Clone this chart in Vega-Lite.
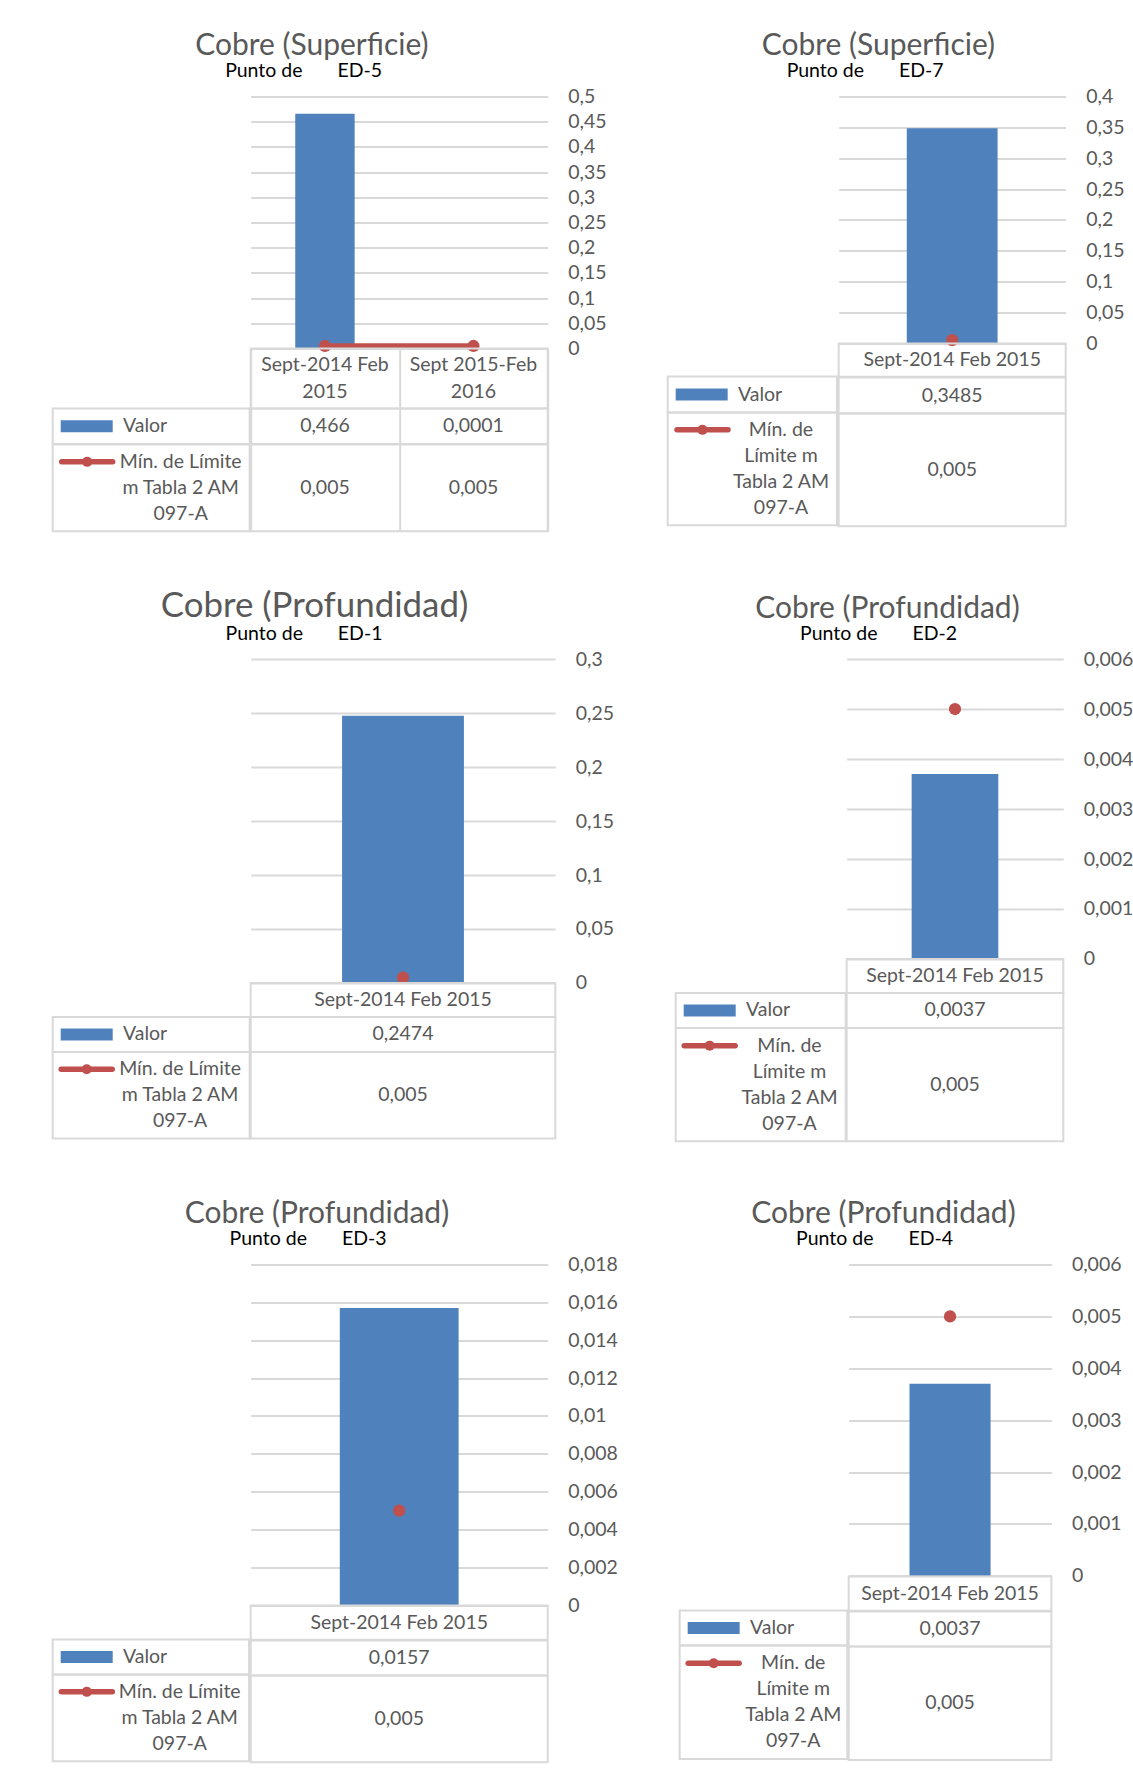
{
  "$schema": "https://vega.github.io/schema/vega-lite/v6.json",
  "padding": {"left": 48.7, "top": 30.5, "right": 0, "bottom": 0},
  "background": "white",
  "datasets": {
    "cobre": [
      {"punto": "ED-5", "periodo": "Sept-2014 Feb\n2015", "valor": 0.466, "limite": 0.005},
      {"punto": "ED-5", "periodo": "Sept 2015-Feb\n2016", "valor": 0.0001, "limite": 0.005},
      {"punto": "ED-7", "periodo": "Sept-2014 Feb 2015", "valor": 0.3485, "limite": 0.005},
      {"punto": "ED-1", "periodo": "Sept-2014 Feb 2015", "valor": 0.2474, "limite": 0.005},
      {"punto": "ED-2", "periodo": "Sept-2014 Feb 2015", "valor": 0.0037, "limite": 0.005},
      {"punto": "ED-3", "periodo": "Sept-2014 Feb 2015", "valor": 0.0157, "limite": 0.005},
      {"punto": "ED-4", "periodo": "Sept-2014 Feb 2015", "valor": 0.0037, "limite": 0.005}
    ]
  },
  "vconcat": [
    {
      "hconcat": [
        {
          "title": {"text": "Cobre (Superficie)", "subtitle": "\u200b\u00a0\u00a0\u00a0\u00a0\u00a0\u00a0Punto de\u00a0\u00a0\u00a0\u00a0\u00a0\u00a0\u00a0ED-5", "fontSize": 30, "dx": 142.5, "offset": 6, "subtitlePadding": 1},
          "hconcat": [
            {"vconcat": [
              {"width": 197, "height": 312, "data": {"values": [{}]}, "mark": {"type": "text", "text": ""}, "view": {"stroke": null}},
              {"width": 197, "height": 35.6, "data": {"values": [{"serie": "Valor"}]},
               "encoding": {"x": {"datum": "fila", "type": "nominal", "bandPosition": 0, "scale": {"type": "band", "domain": ["fila"], "paddingInner": 0.5482, "paddingOuter": 1, "align": 0.2116}, "axis": null}},
               "layer": [
                 {"mark": {"type": "point", "shape": "M-1,-0.23H1V0.23H-1Z", "filled": true, "size": 2704, "color": "#4F81BD", "opacity": 1, "strokeWidth": 0}},
                 {"mark": {"type": "text", "align": "left"},
                  "encoding": {"x": {"datum": "fila", "type": "nominal", "bandPosition": 1}, "text": {"field": "serie"}}}
               ]},
              {"width": 197, "height": 86.7, "data": {"values": [{"serie": "Mín. de Límite\nm Tabla 2 AM\n097-A"}]},
               "encoding": {
                 "x": {"datum": "símbolo", "type": "nominal", "scale": {"type": "point", "domain": ["símbolo", "texto"], "padding": 0.5535, "align": 0.3333}, "axis": null},
                 "y": {"datum": "símbolo", "type": "nominal", "scale": {"type": "point", "domain": ["símbolo"], "padding": 0.5, "align": 0.2001}, "axis": null}
               },
               "layer": [
                 {"mark": {"type": "point", "shape": "M-1,0H1", "filled": false, "size": 2601, "color": "#C0504D", "strokeWidth": 5.5, "strokeCap": "round", "opacity": 1}},
                 {"mark": {"type": "point", "shape": "circle", "filled": true, "size": 100, "color": "#C0504D", "opacity": 1}},
                 {"mark": {"type": "text", "lineBreak": "\n", "lineHeight": 26},
                  "encoding": {"x": {"datum": "texto", "type": "nominal"}, "text": {"field": "serie"}}}
               ]}
            ], "spacing": 0, "bounds": "flush"},
            {"vconcat": [
              {"width": 297, "height": 252,
               "data": {"name": "cobre"}, "transform": [{"filter": "datum.punto == 'ED-5'"}],
               "view": {"stroke": null},
               "encoding": {"x": {"field": "periodo", "type": "nominal", "sort": null, "axis": null, "scale": {"paddingInner": 0.6, "paddingOuter": 0.3}}},
               "layer": [
                 {"mark": {"type": "bar", "color": "#4F81BD"},
                  "encoding": {"y": {"field": "valor", "type": "quantitative", "scale": {"domain": [0, 0.5], "nice": false},
                    "axis": {"orient": "right", "values": [0, 0.05, 0.1, 0.15, 0.2, 0.25, 0.3, 0.35, 0.4, 0.45, 0.5], "format": "~g", "title": null}}}},
                 {"mark": {"type": "line", "color": "#C0504D", "strokeWidth": 5.5},
                  "encoding": {"y": {"field": "limite", "type": "quantitative",
                    "axis": {"orient": "right", "values": [0, 0.05, 0.1, 0.15, 0.2, 0.25, 0.3, 0.35, 0.4, 0.45, 0.5], "format": "~g", "title": null}}}},
                 {"mark": {"type": "point", "shape": "circle", "filled": true, "size": 150, "color": "#C0504D", "opacity": 1},
                  "encoding": {"y": {"field": "limite", "type": "quantitative",
                    "axis": {"orient": "right", "values": [0, 0.05, 0.1, 0.15, 0.2, 0.25, 0.3, 0.35, 0.4, 0.45, 0.5], "format": "~g", "title": null}}}}
               ]},
              {"width": 297, "height": 60, "data": {"name": "cobre"}, "transform": [{"filter": "datum.punto == 'ED-5'"}],
               "mark": {"type": "text", "lineBreak": "\n", "lineHeight": 27},
               "encoding": {"x": {"field": "periodo", "type": "nominal", "sort": null, "scale": {"paddingInner": 0, "paddingOuter": 0},
                 "axis": {"orient": "top", "grid": true, "tickBand": "extent", "labels": false, "ticks": false, "domain": false, "title": null, "gridColor": "#d9d9d9", "gridWidth": 2}},
                 "y": {"datum": "encabezado", "type": "nominal", "scale": {"type": "point", "domain": ["encabezado"], "padding": 0.5, "align": 0.275}, "axis": null},
                 "text": {"field": "periodo"}}},
              {"width": 297, "height": 35.6, "data": {"name": "cobre"}, "transform": [{"filter": "datum.punto == 'ED-5'"}],
               "mark": {"type": "text"},
               "encoding": {"x": {"field": "periodo", "type": "nominal", "sort": null, "scale": {"paddingInner": 0, "paddingOuter": 0},
                 "axis": {"orient": "top", "grid": true, "tickBand": "extent", "labels": false, "ticks": false, "domain": false, "title": null, "gridColor": "#d9d9d9", "gridWidth": 2}},
                 "text": {"field": "valor", "type": "quantitative", "format": "~g"}}},
              {"width": 297, "height": 86.7, "data": {"name": "cobre"}, "transform": [{"filter": "datum.punto == 'ED-5'"}],
               "mark": {"type": "text"},
               "encoding": {"x": {"field": "periodo", "type": "nominal", "sort": null, "scale": {"paddingInner": 0, "paddingOuter": 0},
                 "axis": {"orient": "top", "grid": true, "tickBand": "extent", "labels": false, "ticks": false, "domain": false, "title": null, "gridColor": "#d9d9d9", "gridWidth": 2}},
                 "text": {"field": "limite", "type": "quantitative", "format": "~g"}}}
            ], "spacing": 0, "bounds": "flush"}
          ],
          "spacing": -2
        },
        {
          "title": {"text": "Cobre (Superficie)", "subtitle": "\u200b\u00a0\u00a0\u00a0\u00a0\u00a0Punto de\u00a0\u00a0\u00a0\u00a0\u00a0\u00a0\u00a0ED-7", "fontSize": 30, "dx": 94, "offset": 6, "subtitlePadding": 1},
          "hconcat": [
            {"vconcat": [
              {"width": 169.3, "height": 280, "data": {"values": [{}]}, "mark": {"type": "text", "text": ""}, "view": {"stroke": null}},
              {"width": 169.3, "height": 36, "data": {"values": [{"serie": "Valor"}]},
               "encoding": {"x": {"datum": "fila", "type": "nominal", "bandPosition": 0, "scale": {"type": "band", "domain": ["fila"], "paddingInner": 0.4541, "paddingOuter": 1, "align": 0.2556}, "axis": null}},
               "layer": [
                 {"mark": {"type": "point", "shape": "M-1,-0.23H1V0.23H-1Z", "filled": true, "size": 2704, "color": "#4F81BD", "opacity": 1, "strokeWidth": 0}},
                 {"mark": {"type": "text", "align": "left"},
                  "encoding": {"x": {"datum": "fila", "type": "nominal", "bandPosition": 1}, "text": {"field": "serie"}}}
               ]},
              {"width": 169.3, "height": 112.7, "data": {"values": [{"serie": "Mín. de\nLímite m\nTabla 2 AM\n097-A"}]},
               "encoding": {
                 "x": {"datum": "símbolo", "type": "nominal", "scale": {"type": "point", "domain": ["símbolo", "texto"], "padding": 0.5783, "align": 0.3833}, "axis": null},
                 "y": {"datum": "símbolo", "type": "nominal", "scale": {"type": "point", "domain": ["símbolo"], "padding": 0.5, "align": 0.154}, "axis": null}
               },
               "layer": [
                 {"mark": {"type": "point", "shape": "M-1,0H1", "filled": false, "size": 2601, "color": "#C0504D", "strokeWidth": 5.5, "strokeCap": "round", "opacity": 1}},
                 {"mark": {"type": "point", "shape": "circle", "filled": true, "size": 100, "color": "#C0504D", "opacity": 1}},
                 {"mark": {"type": "text", "lineBreak": "\n", "lineHeight": 26},
                  "encoding": {"x": {"datum": "texto", "type": "nominal"}, "text": {"field": "serie"}}}
               ]}
            ], "spacing": 0, "bounds": "flush"},
            {"vconcat": [
              {"width": 227, "height": 246.7,
               "data": {"name": "cobre"}, "transform": [{"filter": "datum.punto == 'ED-7'"}],
               "view": {"stroke": null},
               "encoding": {"x": {"field": "periodo", "type": "nominal", "sort": null, "axis": null, "scale": {"paddingInner": 0.6, "paddingOuter": 0.3}}},
               "layer": [
                 {"mark": {"type": "bar", "color": "#4F81BD"},
                  "encoding": {"y": {"field": "valor", "type": "quantitative", "scale": {"domain": [0, 0.4], "nice": false},
                    "axis": {"orient": "right", "values": [0, 0.05, 0.1, 0.15, 0.2, 0.25, 0.3, 0.35, 0.4], "format": "~g", "title": null}}}},
                 {"mark": {"type": "line", "color": "#C0504D", "strokeWidth": 5.5},
                  "encoding": {"y": {"field": "limite", "type": "quantitative",
                    "axis": {"orient": "right", "values": [0, 0.05, 0.1, 0.15, 0.2, 0.25, 0.3, 0.35, 0.4], "format": "~g", "title": null}}}},
                 {"mark": {"type": "point", "shape": "circle", "filled": true, "size": 150, "color": "#C0504D", "opacity": 1},
                  "encoding": {"y": {"field": "limite", "type": "quantitative",
                    "axis": {"orient": "right", "values": [0, 0.05, 0.1, 0.15, 0.2, 0.25, 0.3, 0.35, 0.4], "format": "~g", "title": null}}}}
               ]},
              {"width": 227, "height": 33.3, "data": {"name": "cobre"}, "transform": [{"filter": "datum.punto == 'ED-7'"}],
               "mark": {"type": "text"},
               "encoding": {"x": {"field": "periodo", "type": "nominal", "sort": null, "scale": {"paddingInner": 0, "paddingOuter": 0}, "axis": null},
                 "text": {"field": "periodo"}}},
              {"width": 227, "height": 36, "data": {"name": "cobre"}, "transform": [{"filter": "datum.punto == 'ED-7'"}],
               "mark": {"type": "text"},
               "encoding": {"x": {"field": "periodo", "type": "nominal", "sort": null, "scale": {"paddingInner": 0, "paddingOuter": 0}, "axis": null},
                 "text": {"field": "valor", "type": "quantitative", "format": "~g"}}},
              {"width": 227, "height": 112.7, "data": {"name": "cobre"}, "transform": [{"filter": "datum.punto == 'ED-7'"}],
               "mark": {"type": "text"},
               "encoding": {"x": {"field": "periodo", "type": "nominal", "sort": null, "scale": {"paddingInner": 0, "paddingOuter": 0}, "axis": null},
                 "text": {"field": "limite", "type": "quantitative", "format": "~g"}}}
            ], "spacing": 0, "bounds": "flush"}
          ],
          "spacing": -2
        }
      ],
      "spacing": 58
    },
    {
      "hconcat": [
        {
          "title": {"text": "Cobre (Profundidad)", "subtitle": "\u200b\u00a0\u00a0\u00a0\u00a0\u00a0\u00a0\u00a0\u00a0\u00a0\u00a0\u00a0\u00a0\u00a0Punto de\u00a0\u00a0\u00a0\u00a0\u00a0\u00a0\u00a0ED-1", "fontSize": 34.9, "dx": 108, "offset": 6, "subtitlePadding": 1},
          "hconcat": [
            {"vconcat": [
              {"width": 197, "height": 358, "data": {"values": [{}]}, "mark": {"type": "text", "text": ""}, "view": {"stroke": null}},
              {"width": 197, "height": 35, "data": {"values": [{"serie": "Valor"}]},
               "encoding": {"x": {"datum": "fila", "type": "nominal", "bandPosition": 0, "scale": {"type": "band", "domain": ["fila"], "paddingInner": 0.5482, "paddingOuter": 1, "align": 0.2116}, "axis": null}},
               "layer": [
                 {"mark": {"type": "point", "shape": "M-1,-0.23H1V0.23H-1Z", "filled": true, "size": 2704, "color": "#4F81BD", "opacity": 1, "strokeWidth": 0}},
                 {"mark": {"type": "text", "align": "left"},
                  "encoding": {"x": {"datum": "fila", "type": "nominal", "bandPosition": 1}, "text": {"field": "serie"}}}
               ]},
              {"width": 197, "height": 86.6, "data": {"values": [{"serie": "Mín. de Límite\nm Tabla 2 AM\n097-A"}]},
               "encoding": {
                 "x": {"datum": "símbolo", "type": "nominal", "scale": {"type": "point", "domain": ["símbolo", "texto"], "padding": 0.5546, "align": 0.3282}, "axis": null},
                 "y": {"datum": "símbolo", "type": "nominal", "scale": {"type": "point", "domain": ["símbolo"], "padding": 0.5, "align": 0.1998}, "axis": null}
               },
               "layer": [
                 {"mark": {"type": "point", "shape": "M-1,0H1", "filled": false, "size": 2601, "color": "#C0504D", "strokeWidth": 5.5, "strokeCap": "round", "opacity": 1}},
                 {"mark": {"type": "point", "shape": "circle", "filled": true, "size": 100, "color": "#C0504D", "opacity": 1}},
                 {"mark": {"type": "text", "lineBreak": "\n", "lineHeight": 26},
                  "encoding": {"x": {"datum": "texto", "type": "nominal"}, "text": {"field": "serie"}}}
               ]}
            ], "spacing": 0, "bounds": "flush"},
            {"vconcat": [
              {"width": 304.6, "height": 324,
               "data": {"name": "cobre"}, "transform": [{"filter": "datum.punto == 'ED-1'"}],
               "view": {"stroke": null},
               "encoding": {"x": {"field": "periodo", "type": "nominal", "sort": null, "axis": null, "scale": {"paddingInner": 0.6, "paddingOuter": 0.3}}},
               "layer": [
                 {"mark": {"type": "bar", "color": "#4F81BD"},
                  "encoding": {"y": {"field": "valor", "type": "quantitative", "scale": {"domain": [0, 0.3], "nice": false},
                    "axis": {"orient": "right", "values": [0, 0.05, 0.1, 0.15, 0.2, 0.25, 0.3], "format": "~g", "title": null}}}},
                 {"mark": {"type": "line", "color": "#C0504D", "strokeWidth": 5.5},
                  "encoding": {"y": {"field": "limite", "type": "quantitative",
                    "axis": {"orient": "right", "values": [0, 0.05, 0.1, 0.15, 0.2, 0.25, 0.3], "format": "~g", "title": null}}}},
                 {"mark": {"type": "point", "shape": "circle", "filled": true, "size": 150, "color": "#C0504D", "opacity": 1},
                  "encoding": {"y": {"field": "limite", "type": "quantitative",
                    "axis": {"orient": "right", "values": [0, 0.05, 0.1, 0.15, 0.2, 0.25, 0.3], "format": "~g", "title": null}}}}
               ]},
              {"width": 304.6, "height": 34, "data": {"name": "cobre"}, "transform": [{"filter": "datum.punto == 'ED-1'"}],
               "mark": {"type": "text"},
               "encoding": {"x": {"field": "periodo", "type": "nominal", "sort": null, "scale": {"paddingInner": 0, "paddingOuter": 0}, "axis": null},
                 "text": {"field": "periodo"}}},
              {"width": 304.6, "height": 35, "data": {"name": "cobre"}, "transform": [{"filter": "datum.punto == 'ED-1'"}],
               "mark": {"type": "text"},
               "encoding": {"x": {"field": "periodo", "type": "nominal", "sort": null, "scale": {"paddingInner": 0, "paddingOuter": 0}, "axis": null},
                 "text": {"field": "valor", "type": "quantitative", "format": "~g"}}},
              {"width": 304.6, "height": 86.6, "data": {"name": "cobre"}, "transform": [{"filter": "datum.punto == 'ED-1'"}],
               "mark": {"type": "text"},
               "encoding": {"x": {"field": "periodo", "type": "nominal", "sort": null, "scale": {"paddingInner": 0, "paddingOuter": 0}, "axis": null},
                 "text": {"field": "limite", "type": "quantitative", "format": "~g"}}}
            ], "spacing": 0, "bounds": "flush"}
          ],
          "spacing": -2
        },
        {
          "title": {"text": "Cobre (Profundidad)", "subtitle": "\u200b\u00a0\u00a0\u00a0\u00a0\u00a0\u00a0\u00a0\u00a0\u00a0Punto de\u00a0\u00a0\u00a0\u00a0\u00a0\u00a0\u00a0ED-2", "fontSize": 30, "dx": 79.5, "offset": 6, "subtitlePadding": 1},
          "hconcat": [
            {"vconcat": [
              {"width": 170, "height": 334, "data": {"values": [{}]}, "mark": {"type": "text", "text": ""}, "view": {"stroke": null}},
              {"width": 170, "height": 35, "data": {"values": [{"serie": "Valor"}]},
               "encoding": {"x": {"datum": "fila", "type": "nominal", "bandPosition": 0, "scale": {"type": "band", "domain": ["fila"], "paddingInner": 0.457, "paddingOuter": 1, "align": 0.2543}, "axis": null}},
               "layer": [
                 {"mark": {"type": "point", "shape": "M-1,-0.23H1V0.23H-1Z", "filled": true, "size": 2704, "color": "#4F81BD", "opacity": 1, "strokeWidth": 0}},
                 {"mark": {"type": "text", "align": "left"},
                  "encoding": {"x": {"datum": "fila", "type": "nominal", "bandPosition": 1}, "text": {"field": "serie"}}}
               ]},
              {"width": 170, "height": 113.3, "data": {"values": [{"serie": "Mín. de\nLímite m\nTabla 2 AM\n097-A"}]},
               "encoding": {
                 "x": {"datum": "símbolo", "type": "nominal", "scale": {"type": "point", "domain": ["símbolo", "texto"], "padding": 0.5652, "align": 0.3769}, "axis": null},
                 "y": {"datum": "símbolo", "type": "nominal", "scale": {"type": "point", "domain": ["símbolo"], "padding": 0.5, "align": 0.1558}, "axis": null}
               },
               "layer": [
                 {"mark": {"type": "point", "shape": "M-1,0H1", "filled": false, "size": 2601, "color": "#C0504D", "strokeWidth": 5.5, "strokeCap": "round", "opacity": 1}},
                 {"mark": {"type": "point", "shape": "circle", "filled": true, "size": 100, "color": "#C0504D", "opacity": 1}},
                 {"mark": {"type": "text", "lineBreak": "\n", "lineHeight": 26},
                  "encoding": {"x": {"datum": "texto", "type": "nominal"}, "text": {"field": "serie"}}}
               ]}
            ], "spacing": 0, "bounds": "flush"},
            {"vconcat": [
              {"width": 216.6, "height": 300,
               "data": {"name": "cobre"}, "transform": [{"filter": "datum.punto == 'ED-2'"}],
               "view": {"stroke": null},
               "encoding": {"x": {"field": "periodo", "type": "nominal", "sort": null, "axis": null, "scale": {"paddingInner": 0.6, "paddingOuter": 0.3}}},
               "layer": [
                 {"mark": {"type": "bar", "color": "#4F81BD"},
                  "encoding": {"y": {"field": "valor", "type": "quantitative", "scale": {"domain": [0, 0.006], "nice": false},
                    "axis": {"orient": "right", "values": [0, 0.001, 0.002, 0.003, 0.004, 0.005, 0.006], "format": "~g", "title": null}}}},
                 {"mark": {"type": "line", "color": "#C0504D", "strokeWidth": 5.5},
                  "encoding": {"y": {"field": "limite", "type": "quantitative",
                    "axis": {"orient": "right", "values": [0, 0.001, 0.002, 0.003, 0.004, 0.005, 0.006], "format": "~g", "title": null}}}},
                 {"mark": {"type": "point", "shape": "circle", "filled": true, "size": 150, "color": "#C0504D", "opacity": 1},
                  "encoding": {"y": {"field": "limite", "type": "quantitative",
                    "axis": {"orient": "right", "values": [0, 0.001, 0.002, 0.003, 0.004, 0.005, 0.006], "format": "~g", "title": null}}}}
               ]},
              {"width": 216.6, "height": 34, "data": {"name": "cobre"}, "transform": [{"filter": "datum.punto == 'ED-2'"}],
               "mark": {"type": "text"},
               "encoding": {"x": {"field": "periodo", "type": "nominal", "sort": null, "scale": {"paddingInner": 0, "paddingOuter": 0}, "axis": null},
                 "text": {"field": "periodo"}}},
              {"width": 216.6, "height": 35, "data": {"name": "cobre"}, "transform": [{"filter": "datum.punto == 'ED-2'"}],
               "mark": {"type": "text"},
               "encoding": {"x": {"field": "periodo", "type": "nominal", "sort": null, "scale": {"paddingInner": 0, "paddingOuter": 0}, "axis": null},
                 "text": {"field": "valor", "type": "quantitative", "format": "~g"}}},
              {"width": 216.6, "height": 113.3, "data": {"name": "cobre"}, "transform": [{"filter": "datum.punto == 'ED-2'"}],
               "mark": {"type": "text"},
               "encoding": {"x": {"field": "periodo", "type": "nominal", "sort": null, "scale": {"paddingInner": 0, "paddingOuter": 0}, "axis": null},
                 "text": {"field": "limite", "type": "quantitative", "format": "~g"}}}
            ], "spacing": 0, "bounds": "flush"}
          ],
          "spacing": -2
        }
      ],
      "spacing": 58
    },
    {
      "hconcat": [
        {
          "title": {"text": "Cobre (Profundidad)", "subtitle": "\u200b\u00a0\u00a0\u00a0\u00a0\u00a0\u00a0\u00a0\u00a0\u00a0Punto de\u00a0\u00a0\u00a0\u00a0\u00a0\u00a0\u00a0ED-3", "fontSize": 30, "dx": 132, "offset": 6, "subtitlePadding": 1},
          "hconcat": [
            {"vconcat": [
              {"width": 196.4, "height": 375, "data": {"values": [{}]}, "mark": {"type": "text", "text": ""}, "view": {"stroke": null}},
              {"width": 196.4, "height": 35, "data": {"values": [{"serie": "Valor"}]},
               "encoding": {"x": {"datum": "fila", "type": "nominal", "bandPosition": 0, "scale": {"type": "band", "domain": ["fila"], "paddingInner": 0.5465, "paddingOuter": 1, "align": 0.2124}, "axis": null}},
               "layer": [
                 {"mark": {"type": "point", "shape": "M-1,-0.23H1V0.23H-1Z", "filled": true, "size": 2704, "color": "#4F81BD", "opacity": 1, "strokeWidth": 0}},
                 {"mark": {"type": "text", "align": "left"},
                  "encoding": {"x": {"datum": "fila", "type": "nominal", "bandPosition": 1}, "text": {"field": "serie"}}}
               ]},
              {"width": 196.4, "height": 86.7, "data": {"values": [{"serie": "Mín. de Límite\nm Tabla 2 AM\n097-A"}]},
               "encoding": {
                 "x": {"datum": "símbolo", "type": "nominal", "scale": {"type": "point", "domain": ["símbolo", "texto"], "padding": 0.557, "align": 0.3295}, "axis": null},
                 "y": {"datum": "símbolo", "type": "nominal", "scale": {"type": "point", "domain": ["símbolo"], "padding": 0.5, "align": 0.2001}, "axis": null}
               },
               "layer": [
                 {"mark": {"type": "point", "shape": "M-1,0H1", "filled": false, "size": 2601, "color": "#C0504D", "strokeWidth": 5.5, "strokeCap": "round", "opacity": 1}},
                 {"mark": {"type": "point", "shape": "circle", "filled": true, "size": 100, "color": "#C0504D", "opacity": 1}},
                 {"mark": {"type": "text", "lineBreak": "\n", "lineHeight": 26},
                  "encoding": {"x": {"datum": "texto", "type": "nominal"}, "text": {"field": "serie"}}}
               ]}
            ], "spacing": 0, "bounds": "flush"},
            {"vconcat": [
              {"width": 297, "height": 340.7,
               "data": {"name": "cobre"}, "transform": [{"filter": "datum.punto == 'ED-3'"}],
               "view": {"stroke": null},
               "encoding": {"x": {"field": "periodo", "type": "nominal", "sort": null, "axis": null, "scale": {"paddingInner": 0.6, "paddingOuter": 0.3}}},
               "layer": [
                 {"mark": {"type": "bar", "color": "#4F81BD"},
                  "encoding": {"y": {"field": "valor", "type": "quantitative", "scale": {"domain": [0, 0.018], "nice": false},
                    "axis": {"orient": "right", "values": [0, 0.002, 0.004, 0.006, 0.008, 0.01, 0.012, 0.014, 0.016, 0.018], "format": "~g", "title": null}}}},
                 {"mark": {"type": "line", "color": "#C0504D", "strokeWidth": 5.5},
                  "encoding": {"y": {"field": "limite", "type": "quantitative",
                    "axis": {"orient": "right", "values": [0, 0.002, 0.004, 0.006, 0.008, 0.01, 0.012, 0.014, 0.016, 0.018], "format": "~g", "title": null}}}},
                 {"mark": {"type": "point", "shape": "circle", "filled": true, "size": 150, "color": "#C0504D", "opacity": 1},
                  "encoding": {"y": {"field": "limite", "type": "quantitative",
                    "axis": {"orient": "right", "values": [0, 0.002, 0.004, 0.006, 0.008, 0.01, 0.012, 0.014, 0.016, 0.018], "format": "~g", "title": null}}}}
               ]},
              {"width": 297, "height": 34.3, "data": {"name": "cobre"}, "transform": [{"filter": "datum.punto == 'ED-3'"}],
               "mark": {"type": "text"},
               "encoding": {"x": {"field": "periodo", "type": "nominal", "sort": null, "scale": {"paddingInner": 0, "paddingOuter": 0}, "axis": null},
                 "text": {"field": "periodo"}}},
              {"width": 297, "height": 35, "data": {"name": "cobre"}, "transform": [{"filter": "datum.punto == 'ED-3'"}],
               "mark": {"type": "text"},
               "encoding": {"x": {"field": "periodo", "type": "nominal", "sort": null, "scale": {"paddingInner": 0, "paddingOuter": 0}, "axis": null},
                 "text": {"field": "valor", "type": "quantitative", "format": "~g"}}},
              {"width": 297, "height": 86.7, "data": {"name": "cobre"}, "transform": [{"filter": "datum.punto == 'ED-3'"}],
               "mark": {"type": "text"},
               "encoding": {"x": {"field": "periodo", "type": "nominal", "sort": null, "scale": {"paddingInner": 0, "paddingOuter": 0}, "axis": null},
                 "text": {"field": "limite", "type": "quantitative", "format": "~g"}}}
            ], "spacing": 0, "bounds": "flush"}
          ],
          "spacing": -2
        },
        {
          "title": {"text": "Cobre (Profundidad)", "subtitle": "\u200b\u00a0\u00a0\u00a0\u00a0\u00a0\u00a0\u00a0\u00a0\u00a0Punto de\u00a0\u00a0\u00a0\u00a0\u00a0\u00a0\u00a0ED-4", "fontSize": 30, "dx": 71.5, "offset": 6, "subtitlePadding": 1},
          "hconcat": [
            {"vconcat": [
              {"width": 167.6, "height": 345.6, "data": {"values": [{}]}, "mark": {"type": "text", "text": ""}, "view": {"stroke": null}},
              {"width": 167.6, "height": 35, "data": {"values": [{"serie": "Valor"}]},
               "encoding": {"x": {"datum": "fila", "type": "nominal", "bandPosition": 0, "scale": {"type": "band", "domain": ["fila"], "paddingInner": 0.4471, "paddingOuter": 1, "align": 0.2589}, "axis": null}},
               "layer": [
                 {"mark": {"type": "point", "shape": "M-1,-0.23H1V0.23H-1Z", "filled": true, "size": 2704, "color": "#4F81BD", "opacity": 1, "strokeWidth": 0}},
                 {"mark": {"type": "text", "align": "left"},
                  "encoding": {"x": {"datum": "fila", "type": "nominal", "bandPosition": 1}, "text": {"field": "serie"}}}
               ]},
              {"width": 167.6, "height": 113.4, "data": {"values": [{"serie": "Mín. de\nLímite m\nTabla 2 AM\n097-A"}]},
               "encoding": {
                 "x": {"datum": "símbolo", "type": "nominal", "scale": {"type": "point", "domain": ["símbolo", "texto"], "padding": 0.5541, "align": 0.3859}, "axis": null},
                 "y": {"datum": "símbolo", "type": "nominal", "scale": {"type": "point", "domain": ["símbolo"], "padding": 0.5, "align": 0.1561}, "axis": null}
               },
               "layer": [
                 {"mark": {"type": "point", "shape": "M-1,0H1", "filled": false, "size": 2601, "color": "#C0504D", "strokeWidth": 5.5, "strokeCap": "round", "opacity": 1}},
                 {"mark": {"type": "point", "shape": "circle", "filled": true, "size": 100, "color": "#C0504D", "opacity": 1}},
                 {"mark": {"type": "text", "lineBreak": "\n", "lineHeight": 26},
                  "encoding": {"x": {"datum": "texto", "type": "nominal"}, "text": {"field": "serie"}}}
               ]}
            ], "spacing": 0, "bounds": "flush"},
            {"vconcat": [
              {"width": 202.7, "height": 311.3,
               "data": {"name": "cobre"}, "transform": [{"filter": "datum.punto == 'ED-4'"}],
               "view": {"stroke": null},
               "encoding": {"x": {"field": "periodo", "type": "nominal", "sort": null, "axis": null, "scale": {"paddingInner": 0.6, "paddingOuter": 0.3}}},
               "layer": [
                 {"mark": {"type": "bar", "color": "#4F81BD"},
                  "encoding": {"y": {"field": "valor", "type": "quantitative", "scale": {"domain": [0, 0.006], "nice": false},
                    "axis": {"orient": "right", "values": [0, 0.001, 0.002, 0.003, 0.004, 0.005, 0.006], "format": "~g", "title": null}}}},
                 {"mark": {"type": "line", "color": "#C0504D", "strokeWidth": 5.5},
                  "encoding": {"y": {"field": "limite", "type": "quantitative",
                    "axis": {"orient": "right", "values": [0, 0.001, 0.002, 0.003, 0.004, 0.005, 0.006], "format": "~g", "title": null}}}},
                 {"mark": {"type": "point", "shape": "circle", "filled": true, "size": 150, "color": "#C0504D", "opacity": 1},
                  "encoding": {"y": {"field": "limite", "type": "quantitative",
                    "axis": {"orient": "right", "values": [0, 0.001, 0.002, 0.003, 0.004, 0.005, 0.006], "format": "~g", "title": null}}}}
               ]},
              {"width": 202.7, "height": 34.3, "data": {"name": "cobre"}, "transform": [{"filter": "datum.punto == 'ED-4'"}],
               "mark": {"type": "text"},
               "encoding": {"x": {"field": "periodo", "type": "nominal", "sort": null, "scale": {"paddingInner": 0, "paddingOuter": 0}, "axis": null},
                 "text": {"field": "periodo"}}},
              {"width": 202.7, "height": 35, "data": {"name": "cobre"}, "transform": [{"filter": "datum.punto == 'ED-4'"}],
               "mark": {"type": "text"},
               "encoding": {"x": {"field": "periodo", "type": "nominal", "sort": null, "scale": {"paddingInner": 0, "paddingOuter": 0}, "axis": null},
                 "text": {"field": "valor", "type": "quantitative", "format": "~g"}}},
              {"width": 202.7, "height": 113.4, "data": {"name": "cobre"}, "transform": [{"filter": "datum.punto == 'ED-4'"}],
               "mark": {"type": "text"},
               "encoding": {"x": {"field": "periodo", "type": "nominal", "sort": null, "scale": {"paddingInner": 0, "paddingOuter": 0}, "axis": null},
                 "text": {"field": "limite", "type": "quantitative", "format": "~g"}}}
            ], "spacing": 0, "bounds": "flush"}
          ],
          "spacing": -2
        }
      ],
      "spacing": 58
    }
  ],
  "spacing": 55.5,
  "config": {
    "font": "Lato",
    "view": {"stroke": "#d9d9d9", "strokeWidth": 2},
    "text": {"font": "Lato", "fontSize": 19.5, "color": "#595959"},
    "axis": {
      "labelFont": "Lato", "labelFontSize": 19.5, "labelColor": "#595959",
      "grid": true, "gridColor": "#d9d9d9", "gridWidth": 2,
      "domain": false, "ticks": false, "tickSize": 0, "labelPadding": 20, "labelOverlap": false
    },
    "title": {
      "font": "Lato", "color": "#595959", "fontWeight": "normal", "anchor": "start", "frame": "group",
      "subtitleFont": "Lato", "subtitleColor": "#000000", "subtitleFontSize": 19.5
    },
    "locale": {"number": {"decimal": ",", "thousands": ".", "grouping": [3], "currency": ["", " €"]}}
  }
}
